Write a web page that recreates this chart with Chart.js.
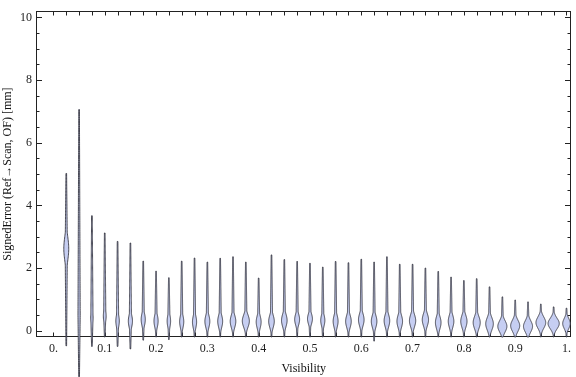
<!DOCTYPE html>
<html>
<head>
<meta charset="utf-8">
<script src="https://cdn.jsdelivr.net/npm/chart.js@4.4.1/dist/chart.umd.min.js"></script>
<style>
  html, body { margin: 0; padding: 0; background: #fff; }
  #wrap { width: 576px; height: 377px; }
</style>
</head>
<body>
<div id="wrap"><canvas id="violinChart"></canvas></div>
<script>
// --- data ---
const visibility = [0.025, 0.05, 0.075, 0.1, 0.125, 0.15, 0.175, 0.2, 0.225, 0.25,
                    0.275, 0.3, 0.325, 0.35, 0.375, 0.4, 0.425, 0.45, 0.475, 0.5,
                    0.525, 0.55, 0.575, 0.6, 0.625, 0.65, 0.675, 0.7, 0.725, 0.75,
                    0.775, 0.8, 0.825, 0.85, 0.875, 0.9, 0.925, 0.95, 0.975, 1.0];
const errMax = [5.02, 7.06, 3.67, 3.12, 2.85, 2.80, 2.22, 1.90, 1.69, 2.22,
                2.32, 2.19, 2.31, 2.36, 2.19, 1.68, 2.42, 2.27, 2.21, 2.15,
                2.03, 2.21, 2.17, 2.28, 2.19, 2.36, 2.12, 2.12, 2.00, 1.89,
                1.71, 1.60, 1.66, 1.40, 1.08, 0.98, 0.92, 0.85, 0.76, 0.72];
const errMin = [-0.48, -1.6, -0.5, -0.2, -0.5, -0.58, -0.3, -0.2, -0.28, -0.2,
                -0.2, -0.2, -0.2, -0.2, -0.2, -0.2, -0.2, -0.2, -0.2, -0.2,
                -0.2, -0.2, -0.2, -0.2, -0.33, -0.2, -0.2, -0.2, -0.2, -0.2,
                -0.2, -0.2, -0.2, -0.2, -0.2, -0.2, -0.2, -0.2, -0.2, -0.2];
const errMode = [2.62, 0.5, 0.4, 0.47, 0.31, 0.31, 0.36, 0.31, 0.31, 0.29,
                 0.28, 0.3, 0.3, 0.3, 0.31, 0.28, 0.3, 0.33, 0.36, 0.38,
                 0.33, 0.3, 0.3, 0.35, 0.3, 0.32, 0.3, 0.32, 0.35, 0.26,
                 0.3, 0.3, 0.26, 0.22, 0.14, 0.16, 0.14, 0.26, 0.23, 0.23];
const errSpread = [0.38, 0.3, 0.25, 0.2, 0.2, 0.2, 0.2, 0.2, 0.2, 0.2,
                   0.2, 0.2, 0.2, 0.2, 0.2, 0.2, 0.2, 0.2, 0.18, 0.17,
                   0.18, 0.2, 0.2, 0.2, 0.2, 0.2, 0.2, 0.2, 0.2, 0.2,
                   0.2, 0.2, 0.2, 0.2, 0.18, 0.18, 0.18, 0.18, 0.17, 0.16];
// relative density at the bulge (1 = widest violin)
const peakDensity = [0.44, 0.17, 0.21, 0.25, 0.31, 0.37, 0.37, 0.37, 0.31, 0.37,
                     0.37, 0.44, 0.44, 0.5, 0.63, 0.44, 0.5, 0.5, 0.44, 0.44,
                     0.37, 0.44, 0.5, 0.5, 0.5, 0.5, 0.5, 0.56, 0.56, 0.5,
                     0.5, 0.56, 0.63, 0.68, 0.81, 0.81, 0.81, 0.87, 1.0, 0.68];

const xTicks = [0, 0.1, 0.2, 0.3, 0.4, 0.5, 0.6, 0.7, 0.8, 0.9, 1.0];
const yTicks = [0, 2, 4, 6, 8, 10];
const yMinorTicks = [0.5, 1, 1.5, 2.5, 3, 3.5, 4.5, 5, 5.5, 6.5, 7, 7.5, 8.5, 9, 9.5];
const xFrameTicks = [0].concat(visibility);

// --- style ---
const SERIF = '"Liberation Serif", "Times New Roman", serif';
const VIOLIN_HALF_WIDTH = 5.6;
const TAIL_HALF_WIDTH = 1.1;
const FILL = 'rgb(198, 206, 242)';
const EDGE = 'rgba(45, 45, 55, 0.95)';
const FRAME = '#222';

// violin shapes, drawn through the chart scales
const violinPlugin = {
    id: 'violins',
    afterDatasetsDraw(chart) {
        const { ctx, scales: { x, y } } = chart;
        ctx.save();
        visibility.forEach((v, i) => {
            const cx = x.getPixelForValue(v);
            const steps = 120;
            const side = [];
            for (let k = 0; k <= steps; k++) {
                const val = errMin[i] + (errMax[i] - errMin[i]) * k / steps;
                const z = (val - errMode[i]) / errSpread[i];
                const bulge = VIOLIN_HALF_WIDTH * peakDensity[i] * Math.exp(-0.5 * z * z);
                const span = val >= errMode[i] ? errMax[i] - errMode[i] : errMode[i] - errMin[i];
                const t = Math.min(1, Math.abs(val - errMode[i]) / span);
                const tail = TAIL_HALF_WIDTH * (1 - 0.7 * t);
                side.push([y.getPixelForValue(val), Math.max(bulge, tail)]);
            }
            ctx.beginPath();
            side.forEach(([py, w], k) => k ? ctx.lineTo(cx + w, py) : ctx.moveTo(cx + w, py));
            for (let k = side.length - 1; k >= 0; k--) ctx.lineTo(cx - side[k][1], side[k][0]);
            ctx.closePath();
            ctx.fillStyle = FILL;
            ctx.fill();
            ctx.lineWidth = 0.9;
            ctx.strokeStyle = EDGE;
            ctx.stroke();
        });
        ctx.restore();
    }
};

// Mathematica-like frame with inward ticks
const framePlugin = {
    id: 'frame',
    beforeDatasetsDraw(chart) {
        const { ctx, chartArea: a, scales: { x, y } } = chart;
        ctx.save();
        ctx.strokeStyle = FRAME;
        ctx.lineWidth = 1;
        const L = Math.round(a.left) + 0.5, R = Math.round(a.right) - 0.5;
        const T = Math.round(a.top) + 0.5, B = Math.round(a.bottom) - 0.5;
        ctx.strokeRect(L, T, R - L, B - T);
        ctx.beginPath();
        xFrameTicks.forEach(v => {
            const px = Math.round(x.getPixelForValue(v)) + 0.5;
            ctx.moveTo(px, B); ctx.lineTo(px, B - 4);
            ctx.moveTo(px, T); ctx.lineTo(px, T + 4);
        });
        yTicks.forEach(v => {
            const py = Math.round(y.getPixelForValue(v)) + 0.5;
            ctx.moveTo(L, py); ctx.lineTo(L + 5.5, py);
            ctx.moveTo(R, py); ctx.lineTo(R - 5.5, py);
        });
        yMinorTicks.forEach(v => {
            const py = Math.round(y.getPixelForValue(v)) + 0.5;
            ctx.moveTo(L, py); ctx.lineTo(L + 3, py);
            ctx.moveTo(R, py); ctx.lineTo(R - 3, py);
        });
        ctx.stroke();
        ctx.restore();
    }
};

new Chart(document.getElementById('violinChart'), {
    type: 'scatter',
    data: { datasets: [] },
    options: {
        responsive: true,
        maintainAspectRatio: false,
        animation: false,
        layout: { padding: { top: 5, right: 1, left: 0, bottom: 0 } },
        plugins: { legend: { display: false }, tooltip: { enabled: false } },
        scales: {
            x: {
                type: 'linear',
                min: -0.034,
                max: 1.0097,
                grid: { display: false, drawTicks: false },
                border: { display: false },
                afterBuildTicks: s => { s.ticks = xTicks.map(v => ({ value: v })); },
                afterFit: s => { s.height = 40; },
                ticks: {
                    autoSkip: false,
                    maxRotation: 0,
                    padding: 5,
                    color: '#222',
                    font: { family: SERIF, size: 12 },
                    callback: v => v === 0 ? '0.' : v === 1 ? '1.' : v.toFixed(1)
                },
                title: {
                    display: true,
                    text: 'Visibility',
                    color: '#111',
                    font: { family: SERIF, size: 12 },
                    padding: { top: 0, bottom: 1 }
                }
            },
            y: {
                type: 'linear',
                min: -0.2,
                max: 10.2,
                grid: { display: false, drawTicks: false },
                border: { display: false },
                afterBuildTicks: s => { s.ticks = yTicks.map(v => ({ value: v })); },
                afterFit: s => { s.width = 36; },
                ticks: {
                    padding: 4,
                    color: '#222',
                    font: { family: SERIF, size: 12 }
                },
                title: {
                    display: true,
                    text: 'SignedError (Ref\u2192Scan, OF) [mm]',
                    color: '#111',
                    font: { family: SERIF, size: 12 },
                    padding: { top: 1, bottom: 0 }
                }
            }
        }
    },
    plugins: [framePlugin, violinPlugin]
});
</script>
</body>
</html>
